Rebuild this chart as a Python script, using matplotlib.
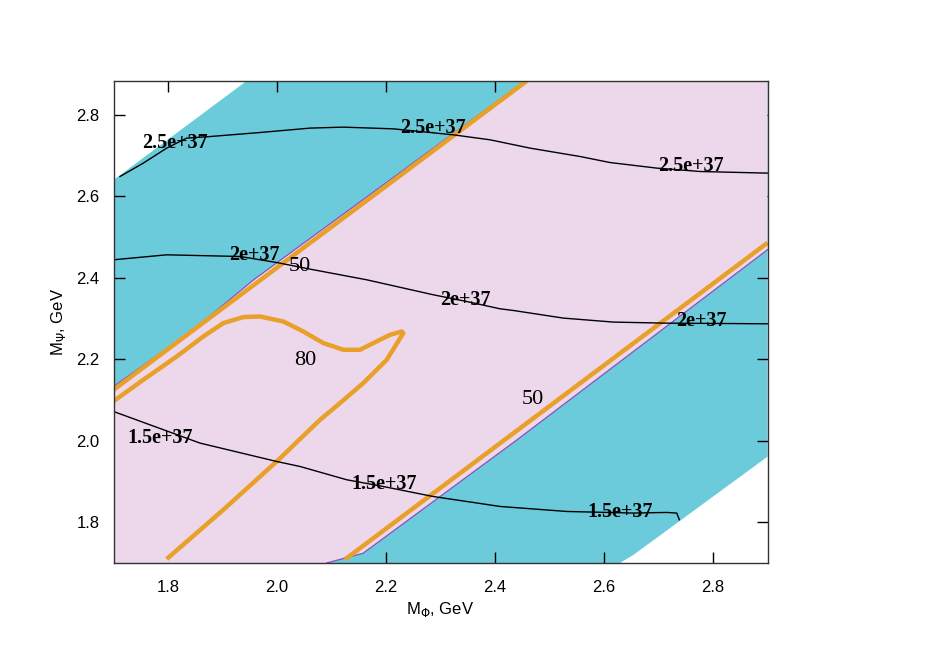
import matplotlib
matplotlib.use('Agg')
import matplotlib.pyplot as plt
import numpy as np

# axis ranges
x_range = [1.7, 2.9]
y_range = [1.7, 2.883]
x_ticks = [1.8, 2.0, 2.2, 2.4, 2.6, 2.8]
y_ticks = [1.8, 2.0, 2.2, 2.4, 2.6, 2.8]

# allowed regions (cyan outer band, pink inner band)
cyan_x = [1.7, 1.944, 2.9, 2.9, 2.654, 2.629, 1.7]
cyan_y = [2.640, 2.883, 2.883, 1.961, 1.72, 1.7, 1.7]
pink_x = [1.7, 1.846, 1.957, 2.455, 2.9, 2.9, 2.44, 2.158, 2.091, 1.7]
pink_y = [2.133, 2.272, 2.395, 2.883, 2.883, 2.469, 2.002, 1.724, 1.7, 1.7]
edge_up_x = [1.7, 1.846, 1.957, 2.455]
edge_up_y = [2.133, 2.272, 2.395, 2.883]
edge_lo_x = [2.091, 2.158, 2.44, 2.9]
edge_lo_y = [1.7, 1.724, 2.002, 2.469]

# orange contours
c50a_x = [1.7, 2.458]
c50a_y = [2.125, 2.883]
c50b_x = [2.125, 2.9]
c50b_y = [1.709, 2.486]
c80_x = [1.7, 1.7547, 1.816, 1.8648, 1.9015, 1.9382, 1.9688, 2.0116, 2.0483,
         2.085, 2.1217, 2.1523, 2.1767, 2.2073, 2.2288, 2.2317, 2.2013, 2.1583,
         2.1156, 2.0789, 1.9994, 1.9015, 1.7976]
c80_y = [2.097, 2.1497, 2.2069, 2.2559, 2.2888, 2.3036, 2.305, 2.2928, 2.2682,
         2.2398, 2.2233, 2.2233, 2.2398, 2.2601, 2.2682, 2.2643, 2.1988, 2.1416,
         2.0925, 2.0515, 1.9492, 1.8307, 1.7097]

# black contours
k25_x = [1.7119, 1.7547, 1.7976, 1.8343, 1.8771, 1.9688, 2.0606, 2.1217, 2.2134,
         2.3235, 2.3908, 2.4642, 2.556, 2.611, 2.6967, 2.7761, 2.9]
k25_y = [2.6486, 2.6815, 2.7183, 2.7428, 2.7467, 2.7566, 2.7674, 2.7698, 2.7656,
         2.7509, 2.7387, 2.7183, 2.6977, 2.6829, 2.6692, 2.6609, 2.6569]
k20_x = [1.7, 1.7976, 1.9321, 1.9994, 2.0606, 2.1646, 2.2868, 2.3481, 2.4092,
         2.4336, 2.5253, 2.6171, 2.7088, 2.9]
k20_y = [2.4442, 2.4564, 2.4523, 2.4375, 2.4213, 2.3951, 2.3583, 2.3418, 2.3239,
         2.3198, 2.3011, 2.2913, 2.2888, 2.2871]
k15_x = [1.7, 1.8587, 1.9994, 2.0422, 2.1279, 2.1945, 2.2862, 2.4092, 2.5316,
         2.6532, 2.715, 2.7334, 2.7382]
k15_y = [2.0719, 1.9943, 1.9492, 1.9369, 1.9043, 1.8879, 1.8633, 1.8388, 1.8265,
         1.8226, 1.8241, 1.8226, 1.8061]

# contour labels
k_labels = ['2.5e+37', '2.5e+37', '2.5e+37', '2e+37', '2e+37', '2e+37',
            '1.5e+37', '1.5e+37', '1.5e+37']
k_lab_x = [1.8128, 2.2862, 2.7596, 1.9578, 2.345, 2.778, 1.7853, 2.1963, 2.6294]
k_lab_y = [2.7313, 2.7681, 2.6748, 2.4564, 2.346, 2.2945, 2.0061, 1.8945, 1.8258]
o_labels = ['50', '50', '80']
o_lab_x = [2.0422, 2.4697, 2.0514]
o_lab_y = [2.427, 2.1006, 2.1963]

cyan = '#6ccbda'
pink = '#ecd8ea'
orange = '#e8a02a'
purple = '#8a4fc0'

fig = plt.figure(figsize=(9.49, 6.64), dpi=100)
ax = fig.add_axes([0.1196, 0.1521, 0.6892, 0.7259])

ax.fill(cyan_x, cyan_y, color=cyan, lw=0, zorder=1)
ax.fill(pink_x, pink_y, color=pink, lw=0, zorder=2)
ax.plot(edge_up_x, edge_up_y, color=purple, lw=0.9, zorder=3)
ax.plot(edge_lo_x, edge_lo_y, color=purple, lw=0.9, zorder=3)

for xs, ys in [(c50a_x, c50a_y), (c50b_x, c50b_y), (c80_x, c80_y)]:
    ax.plot(xs, ys, color=orange, lw=3.2, zorder=4,
            solid_capstyle='butt', solid_joinstyle='round')

for xs, ys in [(k25_x, k25_y), (k20_x, k20_y), (k15_x, k15_y)]:
    ax.plot(xs, ys, color='black', lw=1.0, zorder=5, solid_joinstyle='round')

for t, x, y in zip(k_labels, k_lab_x, k_lab_y):
    ax.text(x, y, t, family='Liberation Serif', weight='bold', fontsize=14.5,
            ha='center', va='center', zorder=6)
for t, x, y in zip(o_labels, o_lab_x, o_lab_y):
    ax.text(x, y, t, family='Liberation Serif', fontsize=16,
            ha='center', va='center', zorder=6)

ax.set_xlim(x_range)
ax.set_ylim(y_range)
ax.set_xticks(x_ticks)
ax.set_yticks(y_ticks)
ax.set_xticklabels(['%.1f' % v for v in x_ticks], family='Liberation Sans', fontsize=12)
ax.set_yticklabels(['%.1f' % v for v in y_ticks], family='Liberation Sans', fontsize=12)
ax.tick_params(direction='in', length=8, width=1, top=True, right=True)
ax.tick_params(axis='x', pad=12)
ax.tick_params(axis='y', pad=10)
for s in ax.spines.values():
    s.set_linewidth(1)
    s.set_color('#333333')
    s.set_zorder(10)

ax.set_xlabel(r'M$_\Phi$, GeV', family='Liberation Sans', fontsize=12, labelpad=4)
ax.set_ylabel(r'M$_\Psi$, GeV', family='Liberation Sans', fontsize=12, labelpad=6)

plt.savefig('out.png', dpi=100)
